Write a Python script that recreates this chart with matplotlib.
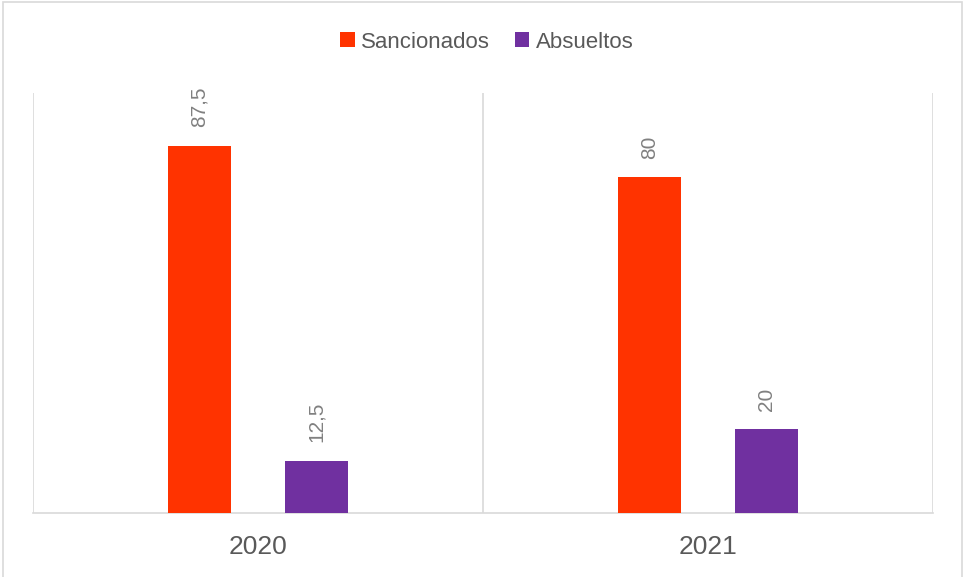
import matplotlib.pyplot as plt
from matplotlib import font_manager
from matplotlib.patches import Rectangle, Patch
import numpy as np

# Datos
years = ["2020", "2021"]
series_names = ["Sancionados", "Absueltos"]
sancionados = [87.5, 80]
absueltos = [12.5, 20]
value_labels_s = ["87,5", "80"]
value_labels_a = ["12,5", "20"]

colors = ["#FF3300", "#7030A0"]
grid_color = "#D9D9D9"

available = {f.name for f in font_manager.fontManager.ttflist}
has_narrow = "Liberation Sans Narrow" in available
narrow = "Liberation Sans Narrow" if has_narrow else "Liberation Sans"
legend_size = 19 if has_narrow else 16
regular = "Liberation Sans"

fig = plt.figure(figsize=(9.64, 5.77), dpi=100)
ax = fig.add_axes([33 / 964, 64 / 577, 900 / 964, 420 / 577])

x = np.arange(len(years))
width = 0.138
offset = 0.13

bars_s = ax.bar(x - offset, sancionados, width, color=colors[0], zorder=3)
bars_a = ax.bar(x + offset, absueltos, width, color=colors[1], zorder=3)

# etiquetas de valor giradas
for bars, labels in [(bars_s, value_labels_s), (bars_a, value_labels_a)]:
    ax.bar_label(bars, labels=labels, rotation=90, padding=13,
                 color="#808080", fontsize=15, fontfamily=regular)

ax.set_xlim(-0.5, 1.5)
ax.set_ylim(0, 100)
ax.set_xticks(x)
ax.set_xticklabels(years, fontsize=19, color="#595959", fontfamily=regular)
ax.tick_params(axis="x", length=0, pad=16)
ax.set_yticks([])

# lineas verticales entre categorias
ax.set_xticks([-0.5, 0.5, 1.5], minor=True)
ax.tick_params(axis="x", which="minor", length=0)
ax.grid(which="minor", axis="x", color=grid_color, linewidth=1.2, zorder=0)

for side in ["top", "left", "right"]:
    ax.spines[side].set_visible(False)
ax.spines["bottom"].set_color(grid_color)
ax.spines["bottom"].set_linewidth(1.2)

handles = [Patch(facecolor=c, edgecolor="none") for c in colors]
fig.legend(handles, series_names, loc="center", bbox_to_anchor=(487 / 964, 1 - 42 / 577),
           ncol=2, frameon=False, handlelength=0.65, handleheight=0.65,
           handletextpad=0.3, columnspacing=1.1,
           prop={"family": narrow, "size": legend_size}, labelcolor="#595959")

# borde del grafico
fig.patches.append(Rectangle((2.5 / 964, -0.02), 959 / 964, 1.0 - 2.5 / 577 + 0.02,
                             transform=fig.transFigure, fill=False,
                             edgecolor=grid_color, linewidth=1.2))

fig.savefig("out.png", dpi=100)
